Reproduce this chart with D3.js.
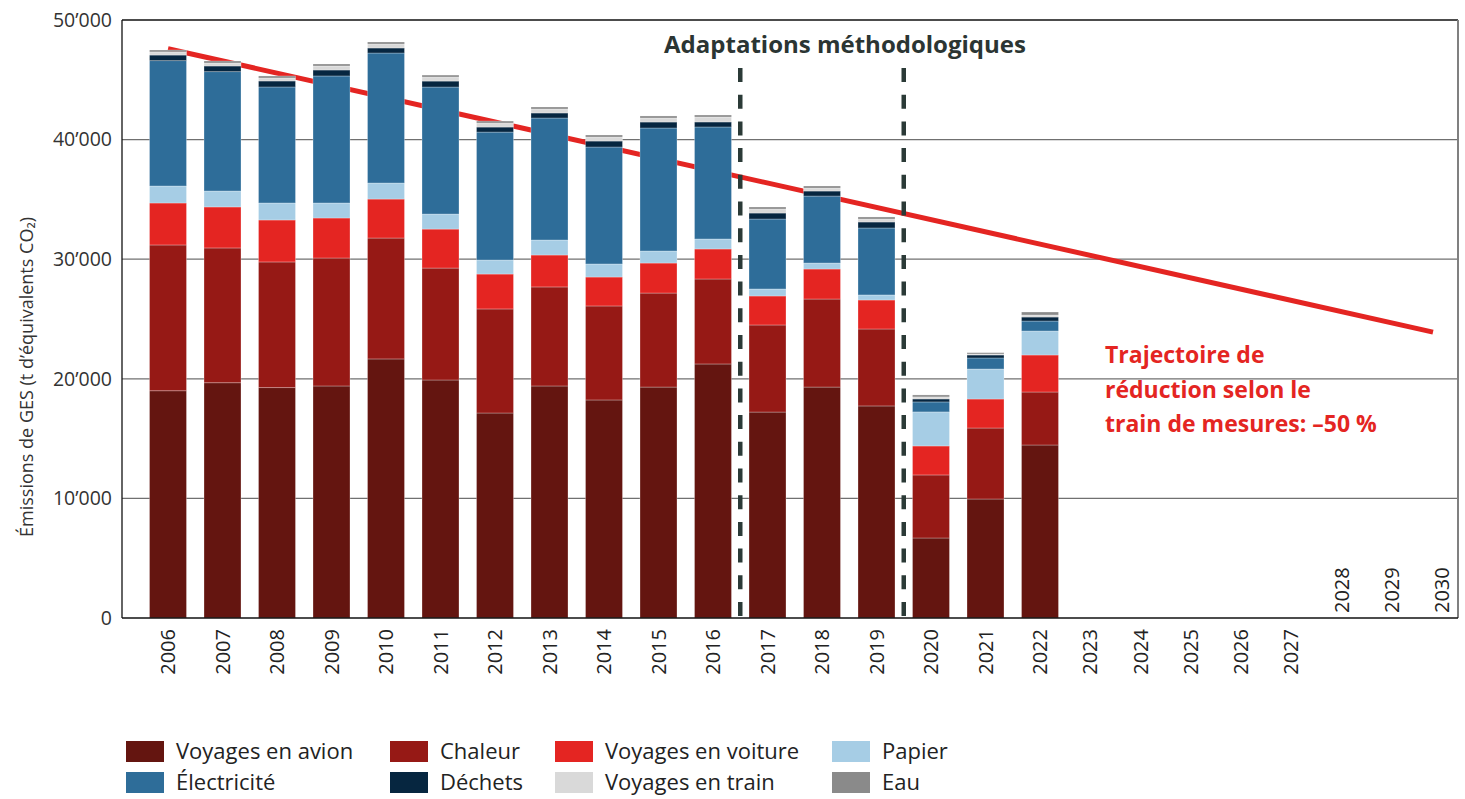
<!DOCTYPE html>
<html>
<head>
<meta charset="utf-8">
<script src="https://cdn.jsdelivr.net/npm/d3@7"></script>
<style>
  html, body { margin: 0; padding: 0; background: #fff; }
  svg { display: block; font-family: "Open Sans", "Noto Sans", sans-serif; }
</style>
</head>
<body>
<svg id="chart" width="1465" height="799"></svg>
<script>
// ---- Data ----
const years = [2006,2007,2008,2009,2010,2011,2012,2013,2014,2015,2016,2017,2018,2019,2020,2021,2022];
const axisYears = d3.range(2006, 2031);
const insideLabelYears = [2028, 2029, 2030];

const avion       = [19000,19670,19260,19400,21660,19900,17140,19400,18230,19310,21240,17220,19310,17730,6690,9950,14465];
const chaleur     = [12190,11270,10510,10700,10110,9360,8700,8280,7860,7860,7105,7280,7360,6435,5270,5935,4430];
const voiture     = [3510,3430,3510,3345,3260,3260,2920,2670,2420,2510,2510,2425,2510,2425,2425,2425,3095];
const papier      = [1420,1330,1420,1255,1340,1255,1170,1255,1090,1005,835,585,500,420,2845,2510,2005];
const electricite = [10480,9980,9700,10620,10870,10620,10700,10200,9780,10285,9365,5850,5600,5600,835,920,835];
const dechets     = [470,475,500,500,420,500,420,420,500,500,420,500,420,500,250,250,335];
const train       = [260,250,250,335,330,335,335,335,335,335,415,335,250,250,170,85,170];
const eau         = [160,167,170,165,170,165,165,165,170,170,165,170,170,170,165,110,250];

const seriesNames = ["Voyages en avion","Chaleur","Voyages en voiture","Papier","Électricité","Déchets","Voyages en train","Eau"];
const seriesValues = [avion, chaleur, voiture, papier, electricite, dechets, train, eau];
const seriesColors = ["#641510","#961915","#e42522","#a6cde5","#2e6d99","#062640","#d9d9d9","#8a8a8a"];

const yTicks = [0,10000,20000,30000,40000,50000];
const trajYears = [2006, 2030];
const trajValues = [47600, 23900];
const methodBreaks = [[2016, 2017], [2019, 2020]];

// ---- Layout ----
const svg = d3.select("#chart");
const plotL = 122, plotR = 1458, plotT = 20, plotB = 618;

const y = d3.scaleLinear().domain([0, 50000]).range([plotB, plotT]);
const x = d3.scaleLinear().domain([2006, 2022, 2030]).range([168, 1040, 1442]);
const barW = 37;
const trajEndInset = 9;

const fmt = d3.formatLocale({decimal: ".", thousands: "\u2019", grouping: [3], currency: ["", ""]}).format(",");

// gridlines
svg.append("g").selectAll("line").data(yTicks.filter(d => d > 0 && d < 50000)).join("line")
  .attr("x1", plotL).attr("x2", plotR)
  .attr("y1", d => y(d)).attr("y2", d => y(d))
  .attr("stroke", "#707070").attr("stroke-width", 1.3);

// frame
svg.append("line").attr("x1", plotL).attr("x2", plotR).attr("y1", y(50000)).attr("y2", y(50000))
  .attr("stroke", "#111").attr("stroke-width", 1.3);
svg.append("line").attr("x1", plotR).attr("x2", plotR).attr("y1", y(50000)).attr("y2", plotB)
  .attr("stroke", "#808080").attr("stroke-width", 2);

// trajectory line (behind bars)
const trajLine = d3.line()
  .x((d, i) => x(trajYears[i]) - (i === trajYears.length - 1 ? trajEndInset : 0))
  .y(d => y(d));
svg.append("path").datum(trajValues).attr("d", trajLine)
  .attr("fill", "none").attr("stroke", "#e42522").attr("stroke-width", 5);

// stacked bars
const table = years.map((yr, i) => {
  const o = {year: yr};
  seriesNames.forEach((n, k) => o[n] = seriesValues[k][i]);
  return o;
});
const stacked = d3.stack().keys(seriesNames)(table);
svg.append("g").selectAll("g").data(stacked).join("g")
  .attr("fill", (d, i) => seriesColors[i])
  .selectAll("rect").data(d => d).join("rect")
  .attr("x", d => x(d.data.year) - barW / 2)
  .attr("width", barW)
  .attr("y", d => y(d[1]))
  .attr("height", d => y(d[0]) - y(d[1]))
  .attr("stroke", "rgba(255,255,255,0.35)").attr("stroke-width", 0.8);

// axes lines
svg.append("line").attr("x1", plotL).attr("x2", plotL).attr("y1", y(50000)).attr("y2", plotB)
  .attr("stroke", "#111").attr("stroke-width", 1.3);
svg.append("line").attr("x1", plotL).attr("x2", plotR).attr("y1", plotB).attr("y2", plotB)
  .attr("stroke", "#111").attr("stroke-width", 1.5);

// y tick labels
svg.append("g").selectAll("text").data(yTicks).join("text")
  .attr("x", plotL - 10).attr("y", d => y(d)).attr("dy", "0.35em")
  .attr("text-anchor", "end").attr("font-size", 19.5).attr("fill", "#333")
  .text(d => fmt(d));

// x labels
svg.append("g").selectAll("text").data(axisYears).join("text")
  .attr("transform", d => {
    const inside = insideLabelYears.includes(d);
    return `translate(${x(d)},${inside ? 613 : 629}) rotate(-90)`;
  })
  .attr("text-anchor", d => insideLabelYears.includes(d) ? "start" : "end")
  .attr("dy", "0.35em").attr("font-size", 20).attr("fill", "#222")
  .text(d => d);

// y axis title
svg.append("text")
  .attr("transform", `translate(33,377) rotate(-90)`)
  .attr("text-anchor", "middle").attr("font-size", 18).attr("fill", "#333")
  .text("Émissions de GES (t d\u2019équivalents CO\u2082)");

// methodology dashed lines
svg.append("g").selectAll("line").data(methodBreaks).join("line")
  .attr("x1", d => (x(d[0]) + x(d[1])) / 2).attr("x2", d => (x(d[0]) + x(d[1])) / 2)
  .attr("y1", 68).attr("y2", plotB)
  .attr("stroke", "#2b3a37").attr("stroke-width", 4.5)
  .attr("stroke-dasharray", "14,12.7");

svg.append("text")
  .attr("x", 845).attr("y", 53)
  .attr("text-anchor", "middle").attr("font-size", 24).attr("font-weight", "bold").attr("fill", "#2b3533")
  .text("Adaptations méthodologiques");

// trajectory annotation
const annLines = ["Trajectoire de", "réduction selon le", "train de mesures: \u201350 %"];
svg.append("g").selectAll("text").data(annLines).join("text")
  .attr("x", 1105).attr("y", (d, i) => 363 + i * 34.5)
  .attr("font-size", 23).attr("font-weight", "bold").attr("fill", "#e42522")
  .text(d => d);

// legend
const legendCols = [126, 390, 555, 832];
const legend = svg.append("g").selectAll("g").data(seriesNames).join("g")
  .attr("transform", (d, i) => `translate(${legendCols[i % 4]},${i < 4 ? 741 : 772})`);
legend.append("rect").attr("width", 38).attr("height", 21).attr("fill", (d, i) => seriesColors[i]);
legend.append("text").attr("x", 50).attr("y", 10.5).attr("dy", "0.36em")
  .attr("font-size", 22).attr("fill", "#222").text(d => d);
</script>
</body>
</html>
